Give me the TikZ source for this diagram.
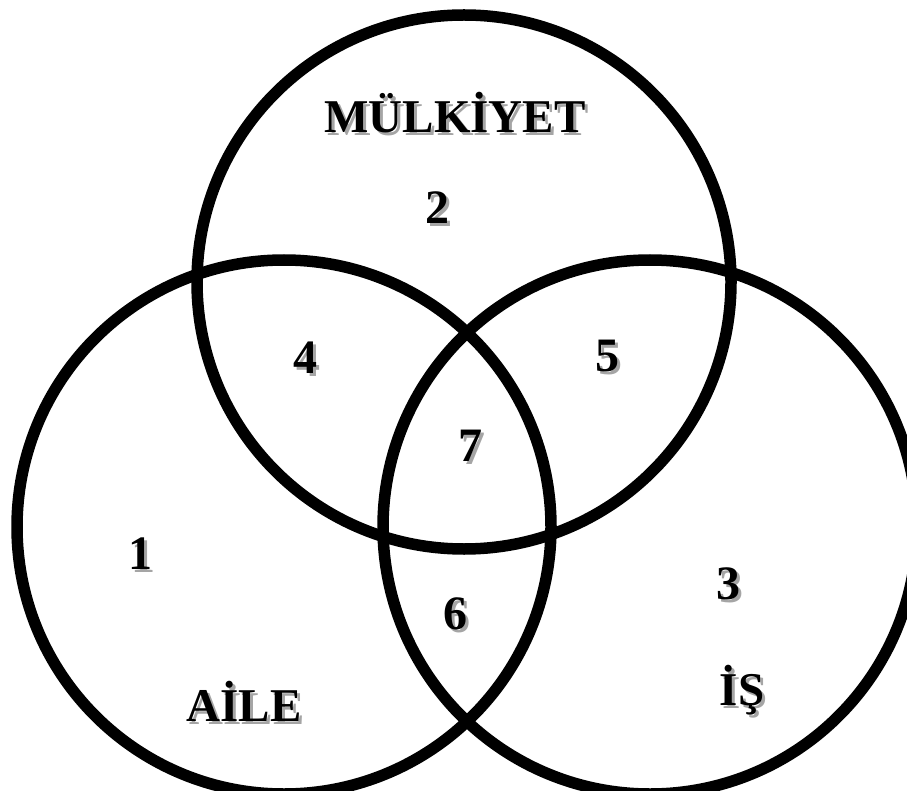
\documentclass[tikz,border=0pt]{standalone}
\usepackage{fontspec}
\setmainfont{Liberation Serif}
\definecolor{shadowgray}{RGB}{165,165,165}
\tikzset{
  ring/.style={circle, draw=black, line width=11.5pt, inner sep=0pt, minimum size=534pt},
  word/.style={font=\bfseries\fontsize{47}{49}\selectfont, inner sep=0pt},
  num/.style={font=\bfseries\fontsize{48}{50}\selectfont, inner sep=0pt}
}
\newcommand\slab[4]{%
  \node[#3, text=shadowgray] (#1s) at ([shift={(3,3)}]#2) {#4};
  \node[#3, text=black] (#1) at (#2) {#4};}
\begin{document}
\begin{tikzpicture}[x=1pt,y=-1pt]
\useasboundingbox (0,0) rectangle (907,791);
\node[ring] (top) at (464,282) {};
\node[ring] (left) at (284,527) {};
\node[ring] (right) at (650,527) {};
\slab{mulk}{455,113}{word}{MÜLKİYET}
\slab{aile}{244,701}{word}{AİLE}
\slab{is}{742,690}{word}{İŞ}
\slab{n1}{140,554}{num}{1}
\slab{n2}{437,208}{num}{2}
\slab{n3}{728,584}{num}{3}
\slab{n4}{305,358}{num}{4}
\slab{n5}{607,356}{num}{5}
\slab{n6}{455,614}{num}{6}
\slab{n7}{470,446}{num}{7}
\end{tikzpicture}
\end{document}
